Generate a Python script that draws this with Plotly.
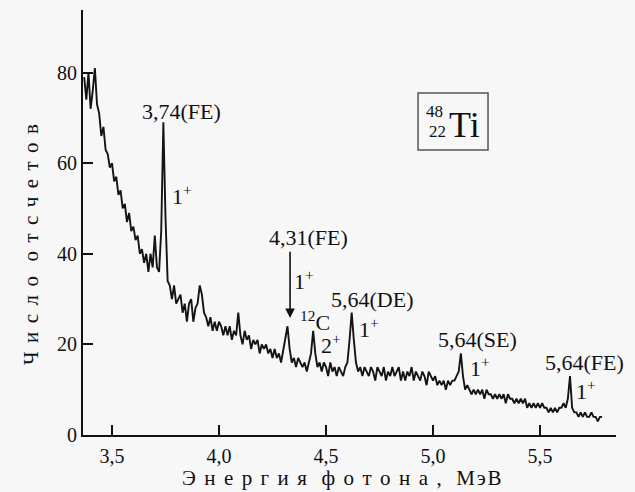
import plotly.graph_objects as go

# Photon energy grid (MeV)
energy_mev = [
    3.37, 3.38, 3.39,
    3.40, 3.41, 3.42, 3.43, 3.44, 3.45, 3.46, 3.47, 3.48, 3.49,
    3.50, 3.51, 3.52, 3.53, 3.54, 3.55, 3.56, 3.57, 3.58, 3.59,
    3.60, 3.61, 3.62, 3.63, 3.64, 3.65, 3.66, 3.67, 3.68, 3.69,
    3.70, 3.71, 3.72, 3.73, 3.74, 3.75, 3.76, 3.77, 3.78, 3.79,
    3.80, 3.81, 3.82, 3.83, 3.84, 3.85, 3.86, 3.87, 3.88, 3.89,
    3.90, 3.91, 3.92, 3.93, 3.94, 3.95, 3.96, 3.97, 3.98, 3.99,
    4.00, 4.01, 4.02, 4.03, 4.04, 4.05, 4.06, 4.07, 4.08, 4.09,
    4.10, 4.11, 4.12, 4.13, 4.14, 4.15, 4.16, 4.17, 4.18, 4.19,
    4.20, 4.21, 4.22, 4.23, 4.24, 4.25, 4.26, 4.27, 4.28, 4.29,
    4.30, 4.31, 4.32, 4.33, 4.34, 4.35, 4.36, 4.37, 4.38, 4.39,
    4.40, 4.41, 4.42, 4.43, 4.44, 4.45, 4.46, 4.47, 4.48, 4.49,
    4.50, 4.51, 4.52, 4.53, 4.54, 4.55, 4.56, 4.57, 4.58, 4.59,
    4.60, 4.61, 4.62, 4.63, 4.64, 4.65, 4.66, 4.67, 4.68, 4.69,
    4.70, 4.71, 4.72, 4.73, 4.74, 4.75, 4.76, 4.77, 4.78, 4.79,
    4.80, 4.81, 4.82, 4.83, 4.84, 4.85, 4.86, 4.87, 4.88, 4.89,
    4.90, 4.91, 4.92, 4.93, 4.94, 4.95, 4.96, 4.97, 4.98, 4.99,
    5.00, 5.01, 5.02, 5.03, 5.04, 5.05, 5.06, 5.07, 5.08, 5.09,
    5.10, 5.11, 5.12, 5.13, 5.14, 5.15, 5.16, 5.17, 5.18, 5.19,
    5.20, 5.21, 5.22, 5.23, 5.24, 5.25, 5.26, 5.27, 5.28, 5.29,
    5.30, 5.31, 5.32, 5.33, 5.34, 5.35, 5.36, 5.37, 5.38, 5.39,
    5.40, 5.41, 5.42, 5.43, 5.44, 5.45, 5.46, 5.47, 5.48, 5.49,
    5.50, 5.51, 5.52, 5.53, 5.54, 5.55, 5.56, 5.57, 5.58, 5.59,
    5.60, 5.61, 5.62, 5.63, 5.64, 5.65, 5.66, 5.67, 5.68, 5.69,
    5.70, 5.71, 5.72, 5.73, 5.74, 5.75, 5.76, 5.77, 5.78, 5.79,
]

# Counts per channel
counts = [
    79, 74, 80,
    72, 76, 81, 73, 71, 66, 68, 63, 62, 59,
    60, 56, 57, 53, 54, 50, 51, 47, 49, 45,
    46, 43, 44, 40, 41, 38, 40, 36, 40, 37,
    44, 37, 36, 45, 69, 48, 34, 33, 30, 33,
    29, 30, 31, 27, 29, 25, 29, 30, 25, 28,
    29, 33, 31, 27, 26, 24, 26, 23, 25, 23,
    25, 24, 22, 24, 22, 24, 21, 23, 22, 27,
    22, 20, 23, 21, 22, 19, 21, 20, 21, 18,
    20, 19, 20, 18, 19, 17, 19, 17, 18, 16,
    19, 22, 24, 19, 16, 17, 15, 17, 16, 15,
    16, 14, 16, 18, 23, 18, 15, 16, 14, 16,
    15, 13, 16, 14, 15, 13, 15, 14, 13, 15,
    16, 21, 27, 21, 16, 14, 15, 13, 15, 14,
    13, 15, 14, 12, 15, 14, 13, 15, 12, 14,
    13, 15, 13, 14, 15, 12, 14, 12, 14, 13,
    15, 12, 14, 13, 12, 14, 13, 11, 14, 13,
    12, 13, 11, 12, 11, 12, 10, 12, 11, 12,
    12, 13, 14, 18, 13, 10, 11, 10, 9, 10,
    9, 10, 9, 10, 8, 10, 9, 9, 8, 9,
    8, 9, 8, 9, 7, 9, 8, 8, 7, 8,
    7, 8, 7, 8, 6, 7, 6, 7, 6, 7,
    6, 7, 6, 6, 5, 6, 5, 6, 5, 6,
    6, 7, 6, 8, 13, 6, 5, 5, 4, 5,
    4, 5, 4, 4, 5, 4, 4, 3, 4, 4,
]

x_tick_vals = [3.5, 4.0, 4.5, 5.0, 5.5]
x_tick_text = ["3,5", "4,0", "4,5", "5,0", "5,5"]
y_tick_vals = [0, 20, 40, 60, 80]
y_tick_text = ["0", "20", "40", "60", "80"]

# Peak labels: (text, energy, counts-level)
peak_labels = [
    ("3,74(FE)", 3.827, 71.3),
    ("1<sup>+</sup>", 3.827, 53.0),
    ("4,31(FE)", 4.416, 43.7),
    ("1<sup>+</sup>", 4.397, 34.2),
    ("<sup>12</sup>C", 4.450, 25.2),
    ("2<sup>+</sup>", 4.525, 20.0),
    ("5,64(DE)", 4.715, 30.0),
    ("1<sup>+</sup>", 4.700, 23.6),
    ("5,64(SE)", 5.206, 21.0),
    ("1<sup>+</sup>", 5.220, 15.0),
    ("5,64(FE)", 5.706, 15.9),
    ("1<sup>+</sup>", 5.715, 9.9),
]

SERIF = "Liberation Serif, Times New Roman, serif"
BG = "#f7f7f7"
GAP = "\u2009\u2009"
WORD_GAP = "\u2002\u2009"


def spaced(word):
    return GAP.join(list(word))


x_title = spaced("Энергия") + WORD_GAP + spaced("фотона,") + WORD_GAP + "\u200a".join(list("МэВ"))
y_title = spaced("Число") + WORD_GAP + spaced("отсчетов")

fig = go.Figure()
fig.add_trace(go.Scatter(
    x=energy_mev, y=counts, mode="lines",
    line=dict(color="#141414", width=1.9),
    hoverinfo="skip", showlegend=False,
))

annotations = []
for text, ex, cy in peak_labels:
    annotations.append(dict(
        x=ex, y=cy, xref="x", yref="y", text=text, showarrow=False,
        xanchor="center", yanchor="middle",
        font=dict(family=SERIF, size=22, color="#111"),
    ))

# arrow for 4,31(FE)
annotations.append(dict(
    x=4.332, y=25.8, ax=4.332, ay=40.8, xref="x", yref="y",
    axref="x", ayref="y", text="", showarrow=True,
    arrowhead=2, arrowsize=1.2, arrowwidth=1.6, arrowcolor="#111",
))

# nuclide label 48/22 Ti
annotations += [
    dict(x=5.009, y=71.3, xref="x", yref="y", text="48", showarrow=False,
         xanchor="center", yanchor="middle",
         font=dict(family=SERIF, size=17, color="#111")),
    dict(x=5.023, y=66.9, xref="x", yref="y", text="22", showarrow=False,
         xanchor="center", yanchor="middle",
         font=dict(family=SERIF, size=17, color="#111")),
    dict(x=5.145, y=68.5, xref="x", yref="y", text="Ti", showarrow=False,
         xanchor="center", yanchor="middle",
         font=dict(family=SERIF, size=36, color="#111")),
]

# axis titles (spaced lettering)
annotations += [
    dict(x=0.485, y=-0.102, xref="paper", yref="paper",
         text=x_title, showarrow=False,
         xanchor="center", yanchor="middle",
         font=dict(family=SERIF, size=21, color="#111")),
    dict(x=-0.098, y=0.449, xref="paper", yref="paper",
         text=y_title, showarrow=False,
         textangle=-90, xanchor="center", yanchor="middle",
         font=dict(family=SERIF, size=21, color="#111")),
]

fig.update_layout(
    width=635, height=492,
    margin=dict(l=83, r=19, t=10, b=57),
    paper_bgcolor=BG, plot_bgcolor=BG,
    annotations=annotations,
    shapes=[dict(type="rect", xref="x", yref="y",
                 x0=4.930, x1=5.257, y0=62.9, y1=75.5,
                 line=dict(color="#555", width=1.5))],
    xaxis=dict(
        range=[3.3645, 5.855], showgrid=False, zeroline=False,
        showline=True, linecolor="#111", linewidth=2,
        ticks="inside", ticklen=10, tickwidth=2, tickcolor="#111",
        tickvals=x_tick_vals, ticktext=x_tick_text,
        ticklabelstandoff=2,
        tickfont=dict(family=SERIF, size=20, color="#111"),
    ),
    yaxis=dict(
        range=[0, 93.8], showgrid=False, zeroline=False,
        showline=True, linecolor="#111", linewidth=2,
        ticks="inside", ticklen=10, tickwidth=2, tickcolor="#111",
        tickvals=y_tick_vals, ticktext=y_tick_text,
        tickfont=dict(family=SERIF, size=20, color="#111"),
    ),
)

fig.write_html("out.html")
